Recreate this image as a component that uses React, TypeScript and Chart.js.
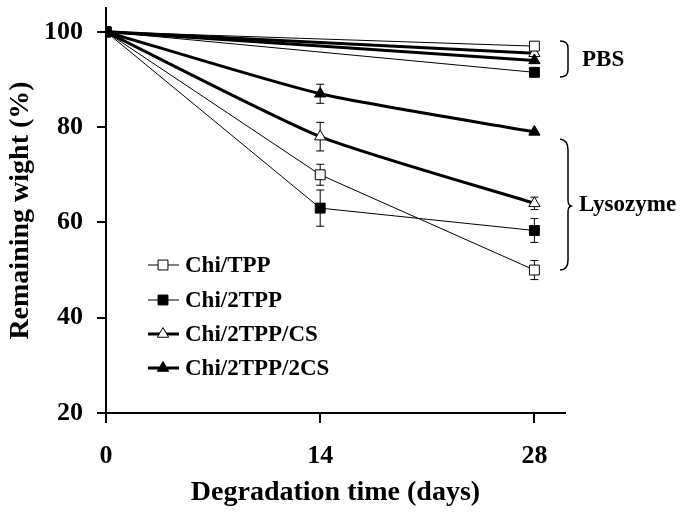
import React, { useEffect, useRef } from 'react';
import { Chart, registerables } from 'chart.js';

Chart.register(...registerables);

// ---- data ----
const days = [0, 14, 28];
const pbsDays = [0, 28];
const xTickValues = [0, 14, 28];
const yTickValues = [20, 40, 60, 80, 100];
const seriesNames = ['Chi/TPP', 'Chi/2TPP', 'Chi/2TPP/CS', 'Chi/2TPP/2CS'];

// Lysozyme
const lysoChiTPP = [100, 70, 50];
const lysoChiTPPErr = [0, 2.2, 2];
const lysoChi2TPP = [100, 63, 58.3];
const lysoChi2TPPErr = [0, 3.8, 2.5];
const lysoChi2TPPCS = [100, 78, 64];
const lysoChi2TPPCSErr = [0, 3, 1.3];
const lysoChi2TPP2CS = [100, 87, 79];
const lysoChi2TPP2CSErr = [0, 2, 0];

// PBS
const pbsChiTPP = [100, 97];
const pbsChi2TPP = [100, 91.5];
const pbsChi2TPPCS = [100, 95.5];
const pbsChi2TPP2CS = [100, 94];

const groupLabels = ['PBS', 'Lysozyme'];

const FONT = "'Liberation Serif', 'Times New Roman', serif";

const styles = [
  { pointStyle: 'rect', radius: 7, fill: '#ffffff', lineWidth: 1, tension: 0 },
  { pointStyle: 'rect', radius: 7, fill: '#000000', lineWidth: 1, tension: 0 },
  { pointStyle: 'triangle', radius: 6.5, fill: '#ffffff', lineWidth: 3, tension: 0.2 },
  { pointStyle: 'triangle', radius: 6.5, fill: '#000000', lineWidth: 3, tension: 0.2 },
];
const drawOrder = [2, 0, 3, 1];

function makeSet(label: string, xs: number[], ys: number[], errs: number[] | null, k: number) {
  const s = styles[k];
  return {
    label,
    data: xs.map((x, i) => ({ x, y: ys[i] })),
    errors: errs,
    borderColor: '#000000',
    borderWidth: s.lineWidth,
    backgroundColor: s.fill,
    pointStyle: s.pointStyle,
    pointRadius: s.radius,
    pointBackgroundColor: s.fill,
    pointBorderColor: '#000000',
    pointBorderWidth: 1,
    tension: s.tension,
    order: drawOrder[k],
    fill: false,
  };
}

function drawMarker(ctx: CanvasRenderingContext2D, k: number, x: number, y: number) {
  const s = styles[k];
  ctx.save();
  ctx.fillStyle = s.fill;
  ctx.strokeStyle = '#000';
  ctx.lineWidth = 1;
  ctx.beginPath();
  if (s.pointStyle === 'rect') {
    const h = s.radius * Math.SQRT1_2;
    ctx.rect(x - h, y - h, 2 * h, 2 * h);
  } else {
    const r = s.radius;
    for (let i = 0; i < 3; i++) {
      const a = -Math.PI / 2 + (i * 2 * Math.PI) / 3;
      const px = x + Math.cos(a) * r;
      const py = y + Math.sin(a) * r;
      if (i === 0) ctx.moveTo(px, py);
      else ctx.lineTo(px, py);
    }
    ctx.closePath();
  }
  ctx.fill();
  ctx.stroke();
  ctx.restore();
}

const errorBarPlugin = {
  id: 'errorBars',
  beforeDatasetsDraw(chart: any) {
    const ctx = chart.ctx;
    const yScale = chart.scales.y;
    ctx.save();
    ctx.strokeStyle = '#000';
    ctx.lineWidth = 1;
    chart.data.datasets.forEach((ds: any, di: number) => {
      if (!ds.errors) return;
      const meta = chart.getDatasetMeta(di);
      meta.data.forEach((pt: any, i: number) => {
        const e = ds.errors[i];
        if (!e) return;
        const v = ds.data[i].y;
        const yTop = yScale.getPixelForValue(v + e);
        const yBot = yScale.getPixelForValue(v - e);
        const x = pt.x;
        ctx.beginPath();
        ctx.moveTo(x, yTop);
        ctx.lineTo(x, yBot);
        ctx.moveTo(x - 4, yTop);
        ctx.lineTo(x + 4, yTop);
        ctx.moveTo(x - 4, yBot);
        ctx.lineTo(x + 4, yBot);
        ctx.stroke();
      });
    });
    ctx.restore();
  },
};

const annotationPlugin = {
  id: 'annotations',
  afterDraw(chart: any) {
    const ctx = chart.ctx;
    ctx.save();
    // legend
    ctx.font = `bold 23px ${FONT}`;
    ctx.textBaseline = 'middle';
    ctx.textAlign = 'left';
    ctx.fillStyle = '#000';
    const rowY = [265, 300, 334, 368];
    seriesNames.forEach((name, k) => {
      const y = rowY[k];
      ctx.strokeStyle = '#000';
      ctx.lineWidth = styles[k].lineWidth;
      ctx.beginPath();
      ctx.moveTo(148, y);
      ctx.lineTo(179, y);
      ctx.stroke();
      drawMarker(ctx, k, 163, y);
      ctx.fillStyle = '#000';
      ctx.fillText(name, 185, y + 1);
    });

    // brackets
    ctx.strokeStyle = '#000';
    ctx.lineWidth = 1.5;
    ctx.beginPath();
    ctx.moveTo(560, 41);
    ctx.quadraticCurveTo(568, 41, 568, 48);
    ctx.lineTo(568, 70);
    ctx.quadraticCurveTo(568, 77, 560, 77);
    ctx.stroke();

    ctx.beginPath();
    ctx.moveTo(560, 139);
    ctx.quadraticCurveTo(568, 140, 568, 150);
    ctx.lineTo(568, 200);
    ctx.quadraticCurveTo(568, 205, 571, 206);
    ctx.quadraticCurveTo(568, 207, 568, 212);
    ctx.lineTo(568, 260);
    ctx.quadraticCurveTo(568, 270, 560, 270);
    ctx.stroke();

    ctx.font = `bold 23px ${FONT}`;
    ctx.fillText(groupLabels[0], 582, 60);
    ctx.fillText(groupLabels[1], 579, 205);
    ctx.restore();
  },
};

export default function App() {
  const ref = useRef<HTMLCanvasElement | null>(null);
  useEffect(() => {
    if (!ref.current) return;
    const datasets: any[] = [
      makeSet(seriesNames[0], days, lysoChiTPP, lysoChiTPPErr, 0),
      makeSet(seriesNames[1], days, lysoChi2TPP, lysoChi2TPPErr, 1),
      makeSet(seriesNames[2], days, lysoChi2TPPCS, lysoChi2TPPCSErr, 2),
      makeSet(seriesNames[3], days, lysoChi2TPP2CS, lysoChi2TPP2CSErr, 3),
      makeSet(seriesNames[0] + ' PBS', pbsDays, pbsChiTPP, null, 0),
      makeSet(seriesNames[1] + ' PBS', pbsDays, pbsChi2TPP, null, 1),
      makeSet(seriesNames[2] + ' PBS', pbsDays, pbsChi2TPPCS, null, 2),
      makeSet(seriesNames[3] + ' PBS', pbsDays, pbsChi2TPP2CS, null, 3),
    ];
    const chart = new Chart(ref.current, {
      type: 'line',
      data: { datasets },
      options: {
        responsive: false,
        animation: false,
        layout: { padding: { top: 5, right: 120, left: 0, bottom: 0 } },
        plugins: { legend: { display: false }, tooltip: { enabled: false } },
        scales: {
          x: {
            type: 'linear',
            min: 0,
            max: 30,
            afterBuildTicks: (scale: any) => {
              scale.ticks = xTickValues.map((v) => ({ value: v }));
            },
            afterFit: (scale: any) => {
              scale.height = 102;
              scale.paddingLeft = 0;
              scale.paddingRight = 0;
            },
            border: { display: true, color: '#000', width: 2 },
            grid: { drawOnChartArea: false, drawTicks: true, tickLength: 10, color: '#000', lineWidth: 2 },
            ticks: {
              color: '#000',
              padding: 18,
              maxRotation: 0,
              font: { family: FONT, size: 26, weight: 'bold' },
            },
            title: {
              display: true,
              text: 'Degradation time (days)',
              color: '#000',
              padding: { top: 0, bottom: 5 },
              font: { family: FONT, size: 28, weight: 'bold' },
            },
          },
          y: {
            type: 'linear',
            min: 20,
            max: 105,
            afterBuildTicks: (scale: any) => {
              scale.ticks = yTickValues.map((v) => ({ value: v }));
            },
            afterFit: (scale: any) => {
              scale.width = 106;
              scale.paddingTop = 0;
              scale.paddingBottom = 0;
            },
            border: { display: true, color: '#000', width: 2 },
            grid: { drawOnChartArea: false, drawTicks: true, tickLength: 9, color: '#000', lineWidth: 2 },
            ticks: {
              color: '#000',
              padding: 14,
              font: { family: FONT, size: 26, weight: 'bold' },
            },
            title: {
              display: true,
              text: 'Remaining wight (%)',
              color: '#000',
              padding: { top: 4, bottom: 0 },
              font: { family: FONT, size: 28, weight: 'bold' },
            },
          },
        },
      } as any,
      plugins: [errorBarPlugin, annotationPlugin],
    });
    return () => chart.destroy();
  }, []);
  return (
    <div style={{ position: 'absolute', left: 0, top: 0, width: 685, height: 515, background: '#fff' }}>
      <canvas ref={ref} width={685} height={515} style={{ display: 'block' }} />
    </div>
  );
}
